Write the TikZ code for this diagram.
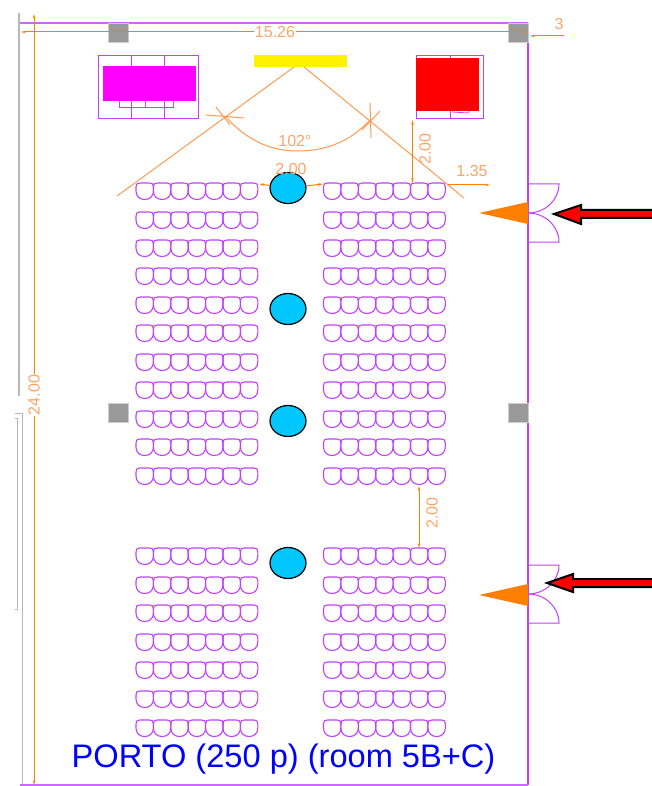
\documentclass[tikz,border=0pt]{standalone}
\usepackage{fontspec}
\setmainfont{Liberation Sans}
\usetikzlibrary{arrows.meta, shapes.geometric}
\definecolor{planpurple}{HTML}{BF40FF}
\definecolor{planorange}{HTML}{FF8000}
\definecolor{sightorange}{HTML}{FF9A50}
\definecolor{dimtext}{HTML}{FFA468}
\definecolor{pillargray}{HTML}{999999}
\definecolor{tablecyan}{HTML}{00C8FF}
\definecolor{screenpink}{HTML}{FF00FF}
\tikzset{
    wall/.style={draw=planpurple, line width=1pt},
    seat/.style={draw=planpurple, line width=1.1pt},
    pillar/.style={rectangle, fill=pillargray, draw=pillargray!50, line width=0.4pt, inner sep=0pt, minimum width=20pt, minimum height=19pt},
    roundtable/.style={ellipse, draw=black, line width=1.2pt, fill=tablecyan, inner sep=0pt, minimum width=36pt, minimum height=31pt},
    dimline/.style={draw=planorange, line width=1pt},
    sightline/.style={draw=sightorange, line width=1pt},
    dimarrow/.style={dimline, {Stealth[length=5pt,width=2.5pt]}-{Stealth[length=5pt,width=2.5pt]}},
    dimlabel/.style={text=dimtext, font=\fontsize{16}{16}\selectfont, inner sep=1pt},
    entryarrow/.style={draw=black, line width=2pt, fill=red, miter limit=6},
    entrycone/.style={fill=planorange},
    seatrow/.pic={
        \foreach \s in {0,...,6} {
            \draw [seat, shift={(17.4*\s,0)}] (0,4) .. controls (0,1) and (1,0) .. (4,0) -- (13.4,0) .. controls (16.4,0) and (17.4,1) .. (17.4,4) -- (17.4,8) .. controls (17.4,13.5) and (13.5,16.5) .. (8.7,16.5) .. controls (3.9,16.5) and (0,13.5) .. (0,8) -- cycle;
        }
    }
}
\begin{document}
\begin{tikzpicture}[x=1pt, y=-1pt]
    \useasboundingbox (0,0) rectangle (652,786);

    % Walls
    \draw [draw=pillargray!70, line width=1.2pt] (19,13) -- (19,396);
    \draw [draw=pillargray!70, line width=1pt] (15,413) -- (22,413) -- (22,786);
    \draw [draw=pillargray!70, line width=0.8pt] (15,418) -- (17,418) -- (17,609) -- (15,609);
    \draw [wall, draw=planpurple!80, line width=1.5pt] (20,23) -- (528,23);
    \draw [wall, line width=1.2pt] (528,23) -- (528,785);
    \draw [wall, draw=planpurple!80, line width=1.5pt] (20,785) -- (528,785);

    % Pillars
    \node [pillar] (pillarTL) at (118.5,32.5) {};
    \node [pillar] (pillarTR) at (518,32.5) {};
    \node [pillar] (pillarML) at (118.5,413) {};
    \node [pillar] (pillarMR) at (518,413) {};

    % Screens and stage
    \draw [wall] (98,56) rectangle (198,119);
    \draw [wall] (131,56) -- (131,119) (164,56) -- (164,119);
    \draw [wall] (119,101) -- (119,108) -- (173,108) -- (173,101) (145,101) -- (145,108);
    \node [rectangle, fill=screenpink, inner sep=0pt, minimum width=93pt, minimum height=35pt] (screenL) at (149.5,83.5) {};
    \node [rectangle, fill=yellow, inner sep=0pt, minimum width=93pt, minimum height=12pt] (stage) at (300.5,61) {};
    \draw [wall] (416,56) rectangle (483,119);
    \draw [wall] (450,56) -- (450,119);
    \draw [wall, line width=0.8pt] (452,112) -- (469,113) -- (469,111);
    \node [rectangle, fill=red, inner sep=0pt, minimum width=63pt, minimum height=53pt] (screenR) at (447.5,84.5) {};

    % Seats
    \foreach \y in {183,212,240,268,297,325,354,382,411,439,468,548,577,605,634,662,691,720} {
        \pic at (136,\y) {seatrow};
        \pic at (323.5,\y) {seatrow};
    }

    % Sight lines
    \draw [sightline] (294,67) -- (117,196);
    \draw [sightline] (304,67) -- (464,198);
    \draw [sightline] (225,116) .. controls (250,144) and (275,151) .. (298,151) .. controls (325,151) and (350,142) .. (370,120);
    \draw [sightline] (206,115) -- (244,118) (216,107) -- (230,125);
    \draw [sightline] (370,103) -- (371,138) (362,130) -- (380,111);
    \node [dimlabel] (angle) at (295,141) {102°};

    % Tables
    \node [roundtable] (tableA) at (288,188) {};
    \node [roundtable] (tableB) at (288,309) {};
    \node [roundtable] (tableC) at (288,421) {};
    \node [roundtable] (tableD) at (288,563) {};

    % Dimensions
    \coordinate (widthL) at (21,32);
    \coordinate (widthR) at (528,32);
    \coordinate (heightT) at (34,14);
    \coordinate (heightB) at (34,785);
    \node [dimlabel, fill=white] (width) at (275,32) {15.26};
    \node [dimlabel, fill=white, rotate=90] (height) at (34,395) {24.00};
    \draw [dimline, {Stealth[length=5pt,width=2.5pt]}-] (widthL) -- (width);
    \draw [dimline, -{Stealth[length=5pt,width=2.5pt]}] (width) -- (widthR);
    \draw [dimline, {Stealth[length=5pt,width=2.5pt]}-] (heightT) -- (height);
    \draw [dimline, -{Stealth[length=5pt,width=2.5pt]}] (height) -- (heightB);
    \coordinate (wallEnd) at (530,36);
    \coordinate (wallTick) at (564,36);
    \draw [dimline, {Stealth[length=5pt,width=2.5pt]}-] (wallEnd) -- (wallTick);
    \node [dimlabel] (wallDim) at (559,24) {3};
    \coordinate (aisleL) at (259,184);
    \coordinate (aisleR) at (323,184);
    \node [dimlabel] (aisleDim) at (291,169) {2.00};
    \draw [dimline, {Stealth[length=5pt,width=2.5pt]}-] (aisleL) -- (tableA);
    \draw [dimline, -{Stealth[length=5pt,width=2.5pt]}] (tableA) -- (aisleR);
    \coordinate (frontT) at (412.5,120);
    \coordinate (frontB) at (412.5,183);
    \draw [dimarrow] (frontT) -- (frontB);
    \node [dimlabel, rotate=90] (frontDim) at (425,149) {2.00};
    \coordinate (sideL) at (448,185);
    \coordinate (sideR) at (490,185);
    \draw [dimline, -{Stealth[length=5pt,width=2.5pt]}] (sideL) -- (sideR);
    \node [dimlabel] (sideDim) at (472,171) {1.35};
    \coordinate (gapT) at (419,486);
    \coordinate (gapB) at (419,548);
    \draw [dimarrow] (gapT) -- (gapB);
    \node [dimlabel, rotate=90] (gapDim) at (432,513) {2.00};

    % Doors
    \foreach \d/\h in {213/29, 594/29} {
        \draw [wall] (528,\d-\h) -- (559,\d-\h) .. controls (559,\d-\h+16) and (545,\d) .. (528,\d);
        \draw [wall] (528,\d+\h) -- (559,\d+\h) .. controls (559,\d+\h-16) and (545,\d) .. (528,\d);
    }

    % Entrances
    \fill [entrycone] (479,213) -- (528,202) -- (528,224) -- cycle;
    \fill [entrycone] (479,595) -- (528,584) -- (528,606) -- cycle;
    \draw [entryarrow] (652,210) -- (581,210) -- (581,205) -- (554,214) -- (581,224) -- (581,218) -- (652,218);
    \draw [entryarrow] (652,579) -- (573,579) -- (573,574) -- (547,583) -- (573,592) -- (573,587) -- (652,587);

    % Title
    \node [text=blue, font=\fontsize{32.6}{33}\selectfont, inner sep=0pt] (title) at (283.5,759.5) {PORTO (250 p) (room 5B+C)};
\end{tikzpicture}
\end{document}
